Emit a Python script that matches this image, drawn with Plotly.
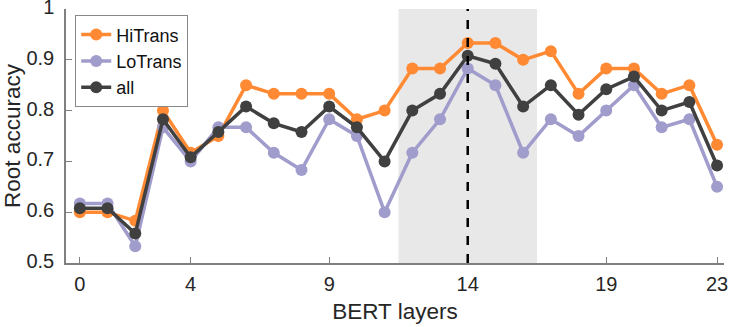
import plotly.graph_objects as go

layers = list(range(24))
hitrans = [0.600, 0.600, 0.583, 0.800, 0.717, 0.750, 0.850, 0.833, 0.833, 0.833, 0.783, 0.800,
           0.883, 0.883, 0.933, 0.933, 0.900, 0.917, 0.833, 0.883, 0.883, 0.833, 0.850, 0.733]
lotrans = [0.617, 0.617, 0.533, 0.767, 0.700, 0.767, 0.767, 0.717, 0.683, 0.783, 0.750, 0.600,
           0.717, 0.783, 0.883, 0.850, 0.717, 0.783, 0.750, 0.800, 0.850, 0.767, 0.783, 0.650]
allv = [0.608, 0.608, 0.558, 0.783, 0.708, 0.758, 0.808, 0.775, 0.758, 0.808, 0.767, 0.700,
        0.800, 0.833, 0.908, 0.892, 0.808, 0.850, 0.792, 0.842, 0.867, 0.800, 0.817, 0.692]
series_names = ["HiTrans", "LoTrans", "all"]
series_colors = ["#FF8A33", "#A09CCB", "#404040"]
x_ticks = [0, 4, 9, 14, 19, 23]
y_ticks = [0.5, 0.6, 0.7, 0.8, 0.9, 1.0]
y_tick_labels = ["0.5", "0.6", "0.7", "0.8", "0.9", "1"]
shade_range = [11.5, 16.5]
best_layer = 14

fig = go.Figure()
for name, vals, col in zip(series_names, [hitrans, lotrans, allv], series_colors):
    fig.add_trace(go.Scatter(
        x=layers, y=vals, name=name, mode="lines+markers",
        line=dict(color=col, width=3.5),
        marker=dict(color=col, size=12, symbol="circle"),
        cliponaxis=False,
    ))

fig.add_vrect(x0=shade_range[0], x1=shade_range[1], fillcolor="#E8E8E8", opacity=1,
              line_width=0, layer="below")
fig.add_shape(type="line", x0=best_layer, x1=best_layer, y0=0.5, y1=1.0, xref="x", yref="y",
              line=dict(color="black", width=2.5, dash="dash"), layer="above")

font = "Liberation Sans, Arial, sans-serif"
fig.update_layout(
    width=732, height=327,
    margin=dict(l=66, r=8, t=9, b=64),
    plot_bgcolor="white", paper_bgcolor="white",
    font=dict(family=font, size=20, color="#262626"),
    showlegend=True,
    legend=dict(x=0.014, y=0.975, xanchor="left", yanchor="top",
                bgcolor="white", bordercolor="#888888", borderwidth=1,
                font=dict(size=18, color="#111111"), itemwidth=30,
                tracegroupgap=0),
    xaxis=dict(range=[-0.5, 23.25], tickmode="array", tickvals=x_ticks,
               ticks="inside", ticklen=6, tickcolor="#808080",
               showline=True, linecolor="#808080", linewidth=1.5,
               showgrid=False, zeroline=False, automargin=False,
               ticklabeloverflow="allow", ticklabelstandoff=2,
               title=dict(text="BERT layers", font=dict(size=22.5), standoff=9)),
    yaxis=dict(range=[0.5, 1.0], tickmode="array", tickvals=y_ticks, ticktext=y_tick_labels,
               ticks="inside", ticklen=6, tickcolor="#808080",
               showline=True, linecolor="#808080", linewidth=1.5,
               showgrid=False, zeroline=False, automargin=False,
               ticklabeloverflow="allow", ticklabelstandoff=6, ticklabelshift=-2,
               title=dict(text="Root accuracy", font=dict(size=22.5), standoff=4)),
)

fig.write_html("out.html", config={"displayModeBar": False},
               post_script="document.body.style.margin='0px';document.body.style.overflow='hidden';")
